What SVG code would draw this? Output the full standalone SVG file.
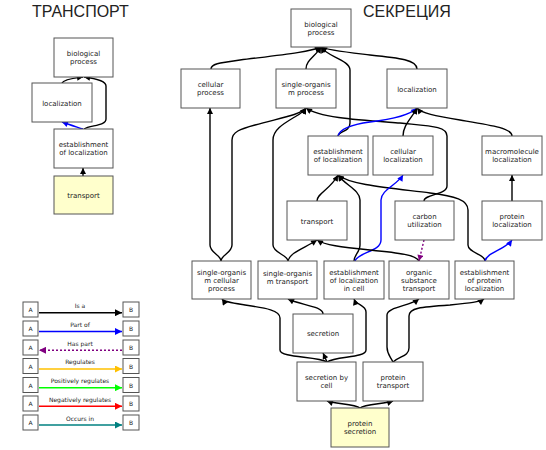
<svg xmlns="http://www.w3.org/2000/svg" width="546" height="450" viewBox="0 0 546 450">
<defs>
<style>
.n rect{fill:#fff;stroke:#555;stroke-width:1}
.n.y rect{fill:#ffffcc}
.n text{font-family:"DejaVu Sans",sans-serif;font-size:7px;fill:#222;text-anchor:middle}
.t{font-family:"Liberation Sans",Arial,sans-serif;font-size:16px;fill:#222}
.e path{fill:none;stroke:#000;stroke-width:1.4}
.e path.b{stroke:#0000ff}
.e path.p{stroke:#800080;stroke-dasharray:2,2}
.lg rect{fill:#fff;stroke:#555;stroke-width:1}
.lg text{font-family:"DejaVu Sans",sans-serif;font-size:6px;fill:#222;text-anchor:middle}
.lg path{fill:none;stroke-width:1.6}
</style>
<marker id="mk" viewBox="0 0 10 10" refX="10" refY="5" markerWidth="7" markerHeight="6" markerUnits="userSpaceOnUse" orient="auto"><path d="M0,0 L10,5 L0,10 z" fill="#000"/></marker>
<marker id="mb" viewBox="0 0 10 10" refX="10" refY="5" markerWidth="7" markerHeight="6" markerUnits="userSpaceOnUse" orient="auto"><path d="M0,0 L10,5 L0,10 z" fill="#0000ff"/></marker>
<marker id="mp" viewBox="0 0 10 10" refX="10" refY="5" markerWidth="7" markerHeight="6" markerUnits="userSpaceOnUse" orient="auto"><path d="M0,0 L10,5 L0,10 z" fill="#800080"/></marker>
<marker id="lk" viewBox="0 0 10 10" refX="10" refY="5" markerWidth="8" markerHeight="7" markerUnits="userSpaceOnUse" orient="auto"><path d="M0,0 L10,5 L0,10 z" fill="#000"/></marker>
<marker id="lb" viewBox="0 0 10 10" refX="10" refY="5" markerWidth="8" markerHeight="7" markerUnits="userSpaceOnUse" orient="auto"><path d="M0,0 L10,5 L0,10 z" fill="#0000ff"/></marker>
<marker id="lp" viewBox="0 0 10 10" refX="10" refY="5" markerWidth="8" markerHeight="7" markerUnits="userSpaceOnUse" orient="auto"><path d="M0,0 L10,5 L0,10 z" fill="#800080"/></marker>
<marker id="lo" viewBox="0 0 10 10" refX="10" refY="5" markerWidth="8" markerHeight="7" markerUnits="userSpaceOnUse" orient="auto"><path d="M0,0 L10,5 L0,10 z" fill="#ffc000"/></marker>
<marker id="lg" viewBox="0 0 10 10" refX="10" refY="5" markerWidth="8" markerHeight="7" markerUnits="userSpaceOnUse" orient="auto"><path d="M0,0 L10,5 L0,10 z" fill="#00ff00"/></marker>
<marker id="lr" viewBox="0 0 10 10" refX="10" refY="5" markerWidth="8" markerHeight="7" markerUnits="userSpaceOnUse" orient="auto"><path d="M0,0 L10,5 L0,10 z" fill="#ff0000"/></marker>
<marker id="lt" viewBox="0 0 10 10" refX="10" refY="5" markerWidth="8" markerHeight="7" markerUnits="userSpaceOnUse" orient="auto"><path d="M0,0 L10,5 L0,10 z" fill="#008080"/></marker>
</defs>
<rect width="546" height="450" fill="#fff"/>
<text class="t" x="32" y="17">ТРАНСПОРТ</text>
<text class="t" x="363" y="17">СЕКРЕЦИЯ</text>

<g id="connectors" class="e">
<!-- left panel -->
<path d="M62,83 C64,79 76,78 83,77" marker-end="url(#mk)"/>
<path d="M84,129 C90,125 106,126 106,119 L106,86 C106,80 92,78 84,77" marker-end="url(#mk)"/>
<path class="b" d="M83,129 C77,127 70,125 62,122" marker-end="url(#mb)"/>
<path d="M83,176 L83,168" marker-end="url(#mk)"/>
<!-- right panel: to biological process -->
<path d="M211,69 C211,64 218,63 240,60 C280,55 310,52 321,47" marker-end="url(#mk)"/>
<path d="M306,69 C306,60 316,56 321,47" marker-end="url(#mk)"/>
<path d="M338,136 C339,131 350,132 350,123 L350,70 C350,60 326,56 321,47" marker-end="url(#mk)"/>
<path d="M417,69 C417,60 400,58 370,55 C345,52 326,50 321,47" marker-end="url(#mk)"/>
<!-- to single-organism process -->
<path d="M221,261 C221,255 232,253 232,245 L232,140 C232,132 240,129 255,125 C280,118 300,115 306,108" marker-end="url(#mk)"/>
<path d="M288,261 C288,255 273,253 273,245 L273,140 C273,130 283,124 293,118 C300,114 304,112 306,108" marker-end="url(#mk)"/>
<path d="M424,201 C424,194 447,195 447,186 L447,136 C447,126 430,126 400,123 C360,120 320,118 306,108" marker-end="url(#mk)"/>
<!-- to cellular process -->
<path d="M221,261 C221,255 210,253 210,245 L210,108" marker-end="url(#mk)"/>
<!-- to localization -->
<path class="b" d="M338,136 C340,128 355,124 370,122 C395,119 410,115 417,108" marker-end="url(#mb)"/>
<path d="M403,136 C403,125 412,118 417,108" marker-end="url(#mk)"/>
<path d="M512,136 C512,128 490,125 460,120 C435,116 421,113 417,108" marker-end="url(#mk)"/>
<!-- to establishment of localization -->
<path d="M317,201 C317,193 330,190 338,175" marker-end="url(#mk)"/>
<path d="M354,261 C354,255 360,252 360,245 L360,200 C360,190 345,185 338,175" marker-end="url(#mk)"/>
<path d="M485,261 C485,254 468,253 468,245 L468,210 C468,200 455,196 430,193 C390,188 350,185 338,175" marker-end="url(#mk)"/>
<!-- to cellular localization -->
<path class="b" d="M355,261 C358,252 381,252 381,240 L381,200 C381,190 397,185 403,175" marker-end="url(#mb)"/>
<!-- to macromolecule localization -->
<path d="M512,201 L512,175" marker-end="url(#mk)"/>
<!-- to protein localization -->
<path class="b" d="M485,261 C487,252 505,250 512,240" marker-end="url(#mb)"/>
<!-- to transport -->
<path d="M288,261 C290,252 305,248 317,240" marker-end="url(#mk)"/>
<path d="M419,261 C416,255 400,253 370,250 C340,247 325,245 317,240" marker-end="url(#mk)"/>
<!-- has part -->
<path class="p" d="M424,240 L419,261" marker-end="url(#mp)"/>
<!-- lower -->
<path d="M323,314 C323,306 300,305 288,299" marker-end="url(#mk)"/>
<path d="M327,362 C318,356 280,358 280,350 L280,318 C280,310 265,308 245,305 C232,303 224,302 222,299" marker-end="url(#mk)"/>
<path d="M327,362 C336,356 366,358 366,350 L366,312 C366,305 356,305 354,299" marker-end="url(#mk)"/>
<path d="M327,362 L323,353" marker-end="url(#mk)"/>
<path d="M360,408 C355,404 335,404 327,401" marker-end="url(#mk)"/>
<path d="M360,408 C365,404 385,404 393,401" marker-end="url(#mk)"/>
<path d="M393,362 C390,356 387,354 387,347 L387,315 C387,307 410,306 419,299" marker-end="url(#mk)"/>
<path d="M393,362 C400,356 409,356 409,348 L409,316 C409,308 420,307 450,305 C470,303 480,302 484,299" marker-end="url(#mk)"/>
</g>

<!-- left panel nodes -->
<g id="l_bp" class="n"><rect x="54" y="38" width="59" height="39"/><text x="83.5" y="56">biological</text><text x="83.5" y="64">process</text></g>
<g id="l_loc" class="n"><rect x="32" y="83" width="60" height="39"/><text x="62" y="106">localization</text></g>
<g id="l_eol" class="n"><rect x="54" y="129" width="59" height="39"/><text x="83.5" y="147">establishment</text><text x="83.5" y="155">of localization</text></g>
<g id="l_tr" class="n y"><rect x="54" y="176" width="59" height="38"/><text x="83.5" y="198">transport</text></g>

<!-- right panel nodes -->
<g id="bp" class="n"><rect x="291" y="9" width="60" height="38"/><text x="321" y="27">biological</text><text x="321" y="35">process</text></g>
<g id="cp" class="n"><rect x="181" y="69" width="59" height="39"/><text x="210.5" y="87">cellular</text><text x="210.5" y="95">process</text></g>
<g id="sop" class="n"><rect x="276" y="69" width="60" height="39"/><text x="306" y="87">single-organis</text><text x="306" y="95">m process</text></g>
<g id="loc" class="n"><rect x="387" y="69" width="60" height="39"/><text x="417" y="92">localization</text></g>
<g id="eol" class="n"><rect x="308" y="136" width="60" height="39"/><text x="338" y="154">establishment</text><text x="338" y="162">of localization</text></g>
<g id="cl" class="n"><rect x="373" y="136" width="60" height="39"/><text x="403" y="154">cellular</text><text x="403" y="162">localization</text></g>
<g id="ml" class="n"><rect x="482" y="136" width="60" height="39"/><text x="512" y="154">macromolecule</text><text x="512" y="162">localization</text></g>
<g id="tr" class="n"><rect x="287" y="201" width="60" height="39"/><text x="317" y="224">transport</text></g>
<g id="cu" class="n"><rect x="395" y="201" width="59" height="39"/><text x="424.5" y="219">carbon</text><text x="424.5" y="227">utilization</text></g>
<g id="pl" class="n"><rect x="482" y="201" width="60" height="39"/><text x="512" y="219">protein</text><text x="512" y="227">localization</text></g>
<g id="socp" class="n"><rect x="192" y="261" width="59" height="38"/><text x="221.5" y="275">single-organis</text><text x="221.5" y="283">m cellular</text><text x="221.5" y="290.5">process</text></g>
<g id="sot" class="n"><rect x="258" y="261" width="59" height="38"/><text x="287.5" y="276">single-organis</text><text x="287.5" y="284">m transport</text></g>
<g id="elc" class="n"><rect x="324" y="261" width="60" height="38"/><text x="354" y="275">establishment</text><text x="354" y="283">of localization</text><text x="354" y="290.5">in cell</text></g>
<g id="ost" class="n"><rect x="389" y="261" width="60" height="38"/><text x="419" y="275">organic</text><text x="419" y="283">substance</text><text x="419" y="290.5">transport</text></g>
<g id="epl" class="n"><rect x="455" y="261" width="59" height="38"/><text x="484.5" y="275">establishment</text><text x="484.5" y="283">of protein</text><text x="484.5" y="290.5">localization</text></g>
<g id="sec" class="n"><rect x="293" y="314" width="60" height="39"/><text x="323" y="336">secretion</text></g>
<g id="sbc" class="n"><rect x="297" y="362" width="59" height="39"/><text x="326.5" y="380">secretion by</text><text x="326.5" y="388">cell</text></g>
<g id="pt" class="n"><rect x="363" y="362" width="60" height="39"/><text x="393" y="380">protein</text><text x="393" y="388">transport</text></g>
<g id="ps" class="n y"><rect x="331" y="408" width="58" height="39"/><text x="360" y="426">protein</text><text x="360" y="434">secretion</text></g>

<!-- legend -->
<g id="legend" class="lg">
<rect x="23" y="302" width="15" height="15"/><rect x="123" y="302" width="16" height="15"/><text x="30.5" y="312">A</text><text x="131" y="312">B</text><text x="80" y="307.5">Is a</text><path d="M39,312.7 L122,312.7" stroke="#000" marker-end="url(#lk)"/>
<rect x="23" y="321" width="15" height="15"/><rect x="123" y="321" width="16" height="15"/><text x="30.5" y="331">A</text><text x="131" y="331">B</text><text x="80" y="326.5">Part of</text><path d="M39,331.5 L122,331.5" stroke="#0000ff" marker-end="url(#lb)"/>
<rect x="23" y="340" width="15" height="15"/><rect x="123" y="340" width="16" height="15"/><text x="30.5" y="350">A</text><text x="131" y="350">B</text><text x="80" y="345.5">Has part</text><path d="M122,350.3 L39,350.3" stroke="#800080" stroke-dasharray="2,2" marker-end="url(#lp)"/>
<rect x="23" y="358.5" width="15" height="15"/><rect x="123" y="358.5" width="16" height="15"/><text x="30.5" y="368.5">A</text><text x="131" y="368.5">B</text><text x="80" y="364">Regulates</text><path d="M39,369 L122,369" stroke="#ffc000" marker-end="url(#lo)"/>
<rect x="23" y="377.5" width="15" height="15"/><rect x="123" y="377.5" width="16" height="15"/><text x="30.5" y="387.5">A</text><text x="131" y="387.5">B</text><text x="80" y="383">Positively regulates</text><path d="M39,387.7 L122,387.7" stroke="#00ff00" marker-end="url(#lg)"/>
<rect x="23" y="396" width="15" height="15"/><rect x="123" y="396" width="16" height="15"/><text x="30.5" y="406">A</text><text x="131" y="406">B</text><text x="80" y="401.5">Negatively regulates</text><path d="M39,406.3 L122,406.3" stroke="#ff0000" marker-end="url(#lr)"/>
<rect x="23" y="415" width="15" height="15"/><rect x="123" y="415" width="16" height="15"/><text x="30.5" y="425">A</text><text x="131" y="425">B</text><text x="80" y="420.5">Occurs in</text><path d="M39,425 L122,425" stroke="#008080" marker-end="url(#lt)"/>
</g>
</svg>
